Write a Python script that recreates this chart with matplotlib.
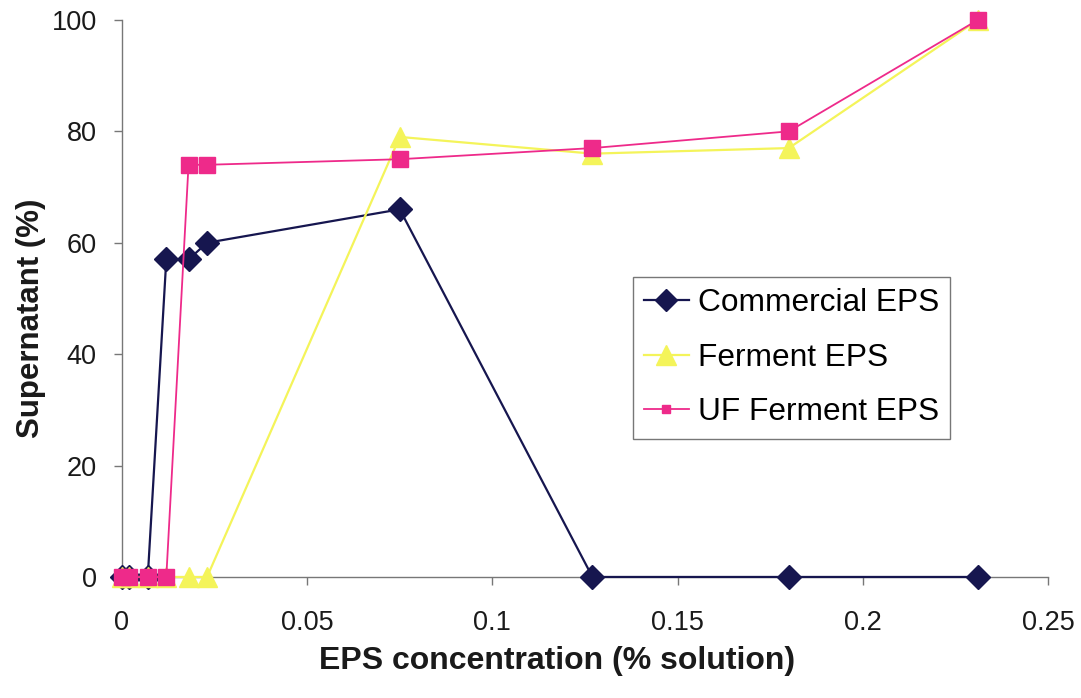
import matplotlib
matplotlib.use("Agg")
import matplotlib.pyplot as plt
from matplotlib.lines import Line2D

plt.rcParams['font.family'] = ['Liberation Sans', 'DejaVu Sans']

# EPS concentration (% solution) shared by all three series
conc = [0.0, 0.002, 0.007, 0.012, 0.018, 0.023, 0.075, 0.127, 0.18, 0.231]

commercial = [0, 0, 0, 57, 57, 60, 66, 0, 0, 0]
ferment = [0, 0, 0, 0, 0, 0, 79, 76, 77, 100]
uf_ferment = [0, 0, 0, 0, 74, 74, 75, 77, 80, 100]

series_names = ["Commercial EPS", "Ferment EPS", "UF Ferment EPS"]
x_ticks = [0, 0.05, 0.1, 0.15, 0.2, 0.25]
x_tick_labels = ["0", "0.05", "0.1", "0.15", "0.2", "0.25"]
y_ticks = [0, 20, 40, 60, 80, 100]

navy = "#16164f"
yellow = "#f4f45a"
pink = "#ee2a8a"

fig = plt.figure(figsize=(10.81, 6.98), dpi=100)
ax = fig.add_axes([0.1127, 0.1734, 0.857, 0.798])

ax.plot(conc, commercial, color=navy, lw=1.6, marker="D", ms=12,
        mfc=navy, mec=navy, zorder=3, clip_on=False)
ax.plot(conc, ferment, color=yellow, lw=1.6, marker="^", ms=14,
        mfc=yellow, mec=yellow, zorder=4, clip_on=False)
ax.plot(conc, uf_ferment, color=pink, lw=1.3, marker="s", ms=12,
        mfc=pink, mec=pink, zorder=5, clip_on=False)

ax.set_xlim(0, 0.25)
ax.set_ylim(0, 100)
ax.set_xticks(x_ticks)
ax.set_xticklabels(x_tick_labels)
ax.set_yticks(y_ticks)

for side in ("top", "right"):
    ax.spines[side].set_visible(False)
for side in ("left", "bottom"):
    ax.spines[side].set_color("#777777")
    ax.spines[side].set_linewidth(1.0)

ax.tick_params(axis="both", direction="out", length=6, width=1.0,
               color="#777777", labelsize=19.5, labelcolor="#1a1a1a")
ax.tick_params(axis="x", pad=18)
ax.tick_params(axis="y", pad=12)

ax.set_xlabel("EPS concentration (% solution)", fontsize=23,
              fontweight="bold", color="#1a1a1a")
ax.xaxis.set_label_coords(0.47, -0.124)
ax.set_ylabel("Supernatant (%)", fontsize=22.5, fontweight="bold",
              color="#1a1a1a")
ax.yaxis.set_label_coords(-0.082, 0.465)

handles = [
    Line2D([], [], color=navy, lw=1.6, marker="D", ms=11, mfc=navy, mec=navy),
    Line2D([], [], color=yellow, lw=1.6, marker="^", ms=14, mfc=yellow, mec=yellow),
    Line2D([], [], color=pink, lw=1.3, marker="s", ms=6, mfc=pink, mec=pink),
]
leg = ax.legend(handles, series_names, loc="upper left",
                bbox_to_anchor=(0.552, 0.5386), fontsize=22.8,
                frameon=True, fancybox=False, handlelength=1.4,
                handletextpad=0.3, labelspacing=0.78, borderpad=0.35,
                borderaxespad=0)
leg.get_frame().set_edgecolor("#555555")
leg.get_frame().set_linewidth(1.0)

fig.savefig("out.png", dpi=100)
